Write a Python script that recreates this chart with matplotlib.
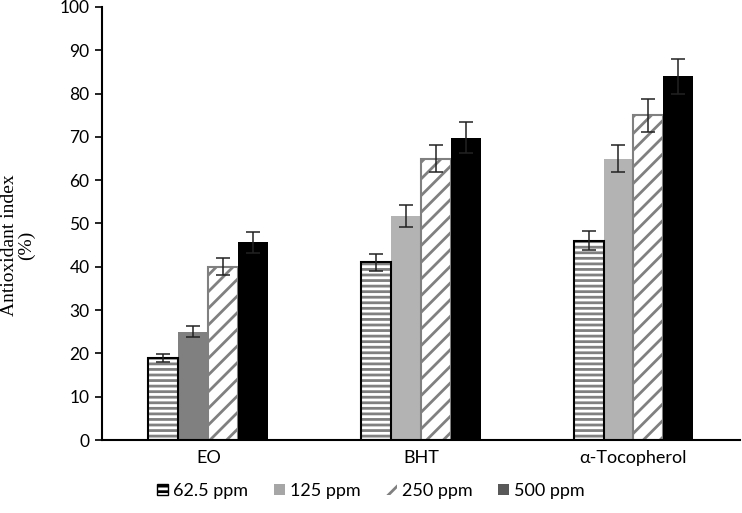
import matplotlib
matplotlib.use("Agg")
import matplotlib.pyplot as plt
import numpy as np
from matplotlib.patches import Patch

plt.rcParams['font.family'] = ['Lato', 'DejaVu Sans']
plt.rcParams['hatch.linewidth'] = 2.0

categories = ["EO", "BHT", "α-Tocopherol"]
series = ["62.5 ppm", "125 ppm", "250 ppm", "500 ppm"]
values = {
    "62.5 ppm": [19.0, 41.0, 46.0],
    "125 ppm": [25.0, 51.7, 65.0],
    "250 ppm": [40.0, 65.0, 75.0],
    "500 ppm": [45.7, 69.8, 84.0],
}
errors = {
    "62.5 ppm": [0.9, 2.0, 2.2],
    "125 ppm": [1.3, 2.6, 3.2],
    "250 ppm": [2.0, 3.2, 3.8],
    "500 ppm": [2.4, 3.6, 4.1],
}
yticks = list(range(0, 101, 10))

fig = plt.figure(figsize=(7.42, 5.13), dpi=100)
ax = fig.add_axes([0.1375, 0.1423, 0.8595, 0.8441])

x = np.arange(len(categories))
w = 0.141
offsets = (np.arange(4) - 1.5) * w

gray = "#808080"
light = "#b3b3b3"

for i, s in enumerate(series):
    xs = x + offsets[i]
    v = values[s]
    if s == "62.5 ppm":
        ax.bar(xs, v, w, color="white", edgecolor=gray, hatch="---", linewidth=0, zorder=2)
        ax.bar(xs, v, w, fill=False, edgecolor="black", linewidth=1.5, zorder=3)
    elif s == "125 ppm":
        cols = [gray, light, light]
        ax.bar(xs, v, w, color=cols, linewidth=0, zorder=2)
    elif s == "250 ppm":
        ax.bar(xs, v, w, color="white", edgecolor=gray, hatch="//", linewidth=1.5, zorder=2)
    else:
        ax.bar(xs, v, w, color="black", linewidth=0, zorder=2)
    ax.errorbar(xs, v, yerr=errors[s], fmt="none", ecolor="#222222",
                elinewidth=1.1, capsize=5, capthick=1.1, zorder=4)

ax.set_xlim(-0.5, len(categories) - 0.5)
ax.set_ylim(0, 100)
ax.set_yticks(yticks)
ax.set_xticks(x)
ax.set_xticklabels(categories, fontsize=13)
ax.tick_params(axis="x", length=0, pad=7)
ax.tick_params(axis="y", length=5, width=1.2, labelsize=12.5, pad=4)
for sp in ["top", "right"]:
    ax.spines[sp].set_visible(False)
ax.spines["left"].set_linewidth(1.5)
ax.spines["bottom"].set_linewidth(1.5)

ax.set_ylabel("Antioxidant index\n(%)", fontsize=14, linespacing=1.0,
              family=["Liberation Serif", "DejaVu Serif"])
ax.yaxis.set_label_coords(-0.105, 0.45)

handles = [
    Patch(facecolor="white", edgecolor="black", hatch="---", linewidth=1.0),
    Patch(facecolor="#a6a6a6", edgecolor="none"),
    Patch(facecolor="white", edgecolor=gray, hatch="//", linewidth=0),
    Patch(facecolor="#595959", edgecolor="none"),
]
fig.legend(handles, series, loc="center", bbox_to_anchor=(0.5, 0.043), ncol=4,
           frameon=False, fontsize=13, handlelength=0.6, handleheight=0.6,
           handletextpad=0.3, columnspacing=1.4)

fig.savefig("out.png", dpi=100)
